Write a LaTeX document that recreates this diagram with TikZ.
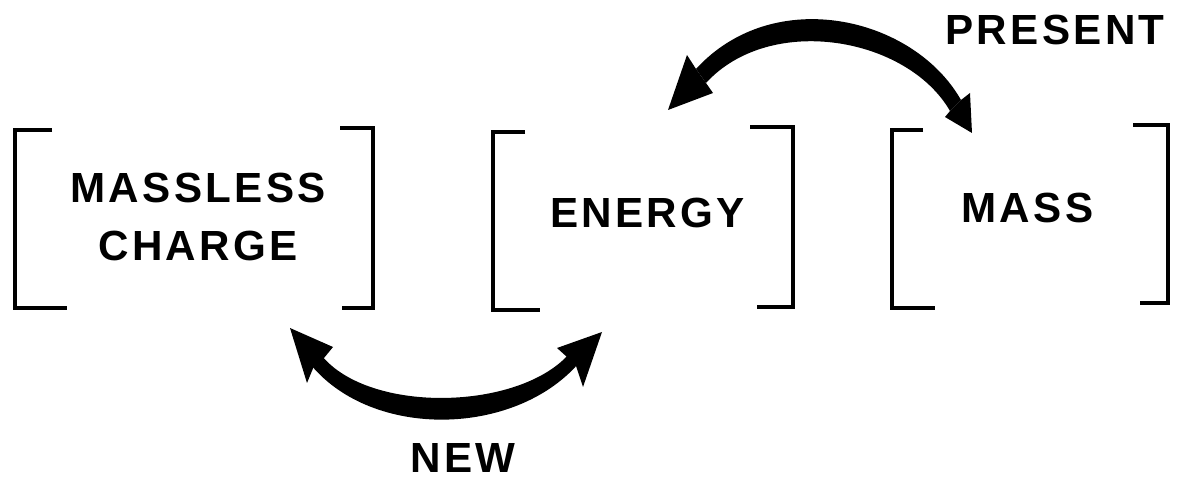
\documentclass[tikz,border=0pt]{standalone}
\usepackage{fontspec}
\newfontfamily\labelfont{Liberation Sans}[LetterSpace=8]

\begin{document}
\begin{tikzpicture}[x=0.02cm,y=-0.02cm,
    bracket/.style={line width=1.9pt},
    word/.style={font=\labelfont\bfseries\fontsize{24}{33}\selectfont,inner sep=0pt,align=center}]
  \useasboundingbox (0,0) rectangle (1177,479);
  % words
  \node[word] (charge) at (198,216.5) {MASSLESS\\CHARGE};
  \node[word] (energy) at (647.5,213) {ENERGY};
  \node[word] (mass) at (1027.5,207.5) {MASS};
  \node[word] (present) at (1055,30) {PRESENT};
  \node[word] (new) at (463,458) {NEW};
  % brackets
  \draw[bracket] (52,130) -- (15,130) -- (15,308) -- (67,308);
  \draw[bracket] (340,128) -- (373,128) -- (373,308) -- (342,308);
  \draw[bracket] (525,132) -- (493,132) -- (493,310) -- (540,310);
  \draw[bracket] (750,127) -- (793,127) -- (793,307) -- (757,307);
  \draw[bracket] (923,130) -- (892,130) -- (892,308) -- (935,308);
  \draw[bracket] (1133,125) -- (1168,125) -- (1168,303) -- (1140,303);
  % arrow tips
  \coordinate (newL) at (290,328);
  \coordinate (newR) at (602,332);
  \coordinate (presL) at (668,110);
  \coordinate (presR) at (972,133);
  % lower arrow
  \fill (311,365) .. controls (373,439.5) and (514,436.5) .. (578,364)
    -- (569,354) .. controls (519,410.5) and (370,414) .. (322,356) -- cycle;
  \fill (newL) -- (333,347) -- (324,358) -- (314,366) -- (307,383) -- cycle;
  \fill (newR) -- (583,387) -- (576,366) -- (567,357) -- (557,348) -- cycle;
  % upper arrow
  \fill (696,69) .. controls (773.6,-15.9) and (913.5,16.4) .. (961,100)
    -- (950,111) .. controls (907.5,37) and (770.1,12.9) .. (706,83) -- cycle;
  \fill (presL) -- (687,55) -- (696,69) -- (706,83) -- (713,93) -- cycle;
  \fill (presR) -- (945,117) -- (950,111) -- (961,100) -- (970,93) -- cycle;
\end{tikzpicture}
\end{document}
